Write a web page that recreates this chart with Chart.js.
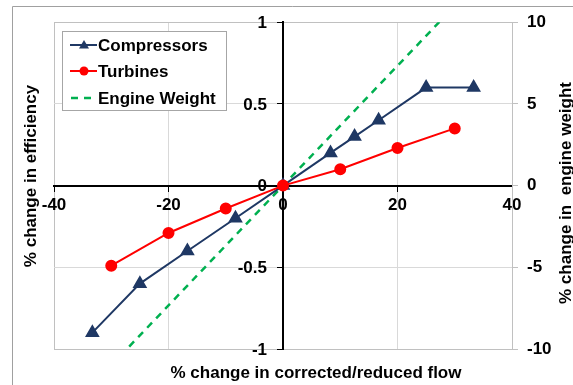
<!DOCTYPE html>
<html>
<head>
<meta charset="utf-8">
<script src="https://cdn.jsdelivr.net/npm/chart.js@4.4.1/dist/chart.umd.min.js"></script>
<style>
  html, body { margin: 0; padding: 0; background: #fff; }
  #wrap { width: 573px; height: 385px; position: relative; }
</style>
</head>
<body>
<div id="wrap"><canvas id="grafico"></canvas></div>
<script>
// Datos
const flujoCompresores = [-33.3, -25, -16.7, -8.3, 0, 8.3, 12.5, 16.7, 25, 33.3];
const efCompresores = [-0.9, -0.6, -0.4, -0.2, 0, 0.2, 0.3, 0.4, 0.6, 0.6];
const flujoTurbinas = [-30, -20, -10, 0, 10, 20, 30];
const efTurbinas = [-0.49, -0.29, -0.14, 0, 0.1, 0.23, 0.35];
const flujoPeso = [-30, 30];
const cambioPeso = [-11, 11];

const nombresSeries = ['Compressors', 'Turbines', 'Engine Weight'];
const tituloX = '% change in corrected/reduced flow';
const tituloY = '% change in efficiency';
const tituloY2 = '% change in  engine weight';

const AZUL = '#1F3864';
const ROJO = '#FF0000';
const VERDE = '#00B050';
const FUENTE = 'Liberation Sans, Arial, sans-serif';

Chart.defaults.font.family = FUENTE;
Chart.defaults.color = '#000';

function puntos(xs, ys) {
    return xs.map((x, i) => ({ x: x, y: ys[i] }));
}

const sinCeros = v => String(Number(v.toFixed(2)));

// Títulos, marco, etiquetas del eje izquierdo y leyenda dibujados a mano
const extras = {
    id: 'extras',
    beforeDraw(chart) {
        const c = chart.ctx;
        c.save();
        c.strokeStyle = '#a0a0a0';
        c.lineWidth = 1;
        c.beginPath();
        c.moveTo(12.5, 385);
        c.lineTo(12.5, 6.5);
        c.lineTo(573, 6.5);
        c.stroke();
        c.restore();
    },
    afterDatasetsDraw(chart) {
        const c = chart.ctx;
        c.save();
        c.font = 'bold 17px ' + FUENTE;
        c.fillStyle = '#000';

        // etiquetas del eje de eficiencia, a la izquierda del eje central
        const sy = chart.scales.y;
        const xEje = chart.scales.x.getPixelForValue(0);
        c.textAlign = 'right';
        c.textBaseline = 'middle';
        sy.ticks.forEach(t => c.fillText(sinCeros(t.value), xEje - 16, sy.getPixelForValue(t.value) + 1));

        // caja de la leyenda
        c.fillStyle = '#fff';
        c.fillRect(62, 31, 164, 79);
        c.strokeStyle = '#a6a6a6';
        c.lineWidth = 1;
        c.strokeRect(62.5, 31.5, 164, 79);

        const filas = [45, 71, 98];
        c.textAlign = 'left';
        // Compressors
        c.strokeStyle = AZUL; c.lineWidth = 2;
        c.beginPath(); c.moveTo(70, filas[0]); c.lineTo(97, filas[0]); c.stroke();
        c.fillStyle = AZUL;
        c.beginPath(); c.moveTo(84, filas[0] - 5); c.lineTo(89, filas[0] + 3.5); c.lineTo(79, filas[0] + 3.5); c.closePath(); c.fill();
        // Turbines
        c.strokeStyle = ROJO;
        c.beginPath(); c.moveTo(70, filas[1]); c.lineTo(97, filas[1]); c.stroke();
        c.fillStyle = ROJO;
        c.beginPath(); c.arc(84, filas[1], 4.5, 0, Math.PI * 2); c.fill();
        // Engine Weight
        c.strokeStyle = VERDE; c.lineWidth = 2.5;
        c.setLineDash([7, 6]);
        c.beginPath(); c.moveTo(71, filas[2]); c.lineTo(97, filas[2]); c.stroke();
        c.setLineDash([]);

        c.fillStyle = '#000';
        nombresSeries.forEach((n, i) => c.fillText(n, 98, filas[i] + 1));

        // títulos de ejes
        c.textAlign = 'center';
        c.fillText(tituloX, 316, 373);
        c.save();
        c.translate(31, 176);
        c.rotate(-Math.PI / 2);
        c.fillText(tituloY, 0, 0);
        c.restore();
        c.save();
        c.translate(566, 193);
        c.rotate(-Math.PI / 2);
        c.fillText(tituloY2, 0, 0);
        c.restore();
        c.restore();
    }
};

const esBorde = (v, lim) => Math.abs(Math.abs(v) - lim) < 1e-9;

const ctx = document.getElementById('grafico').getContext('2d');
const grafico = new Chart(ctx, {
    type: 'scatter',
    data: {
        datasets: [{
            label: nombresSeries[0],
            data: puntos(flujoCompresores, efCompresores),
            showLine: true,
            borderColor: AZUL,
            backgroundColor: AZUL,
            borderWidth: 2,
            pointStyle: 'triangle',
            pointRadius: 6.5,
            pointHoverRadius: 6.5,
            yAxisID: 'y',
            order: 1
        }, {
            label: nombresSeries[1],
            data: puntos(flujoTurbinas, efTurbinas),
            showLine: true,
            borderColor: ROJO,
            backgroundColor: ROJO,
            borderWidth: 2,
            pointStyle: 'circle',
            pointRadius: 5,
            pointHoverRadius: 5,
            yAxisID: 'y',
            order: 0
        }, {
            label: nombresSeries[2],
            data: puntos(flujoPeso, cambioPeso),
            showLine: true,
            borderColor: VERDE,
            borderWidth: 2.5,
            borderDash: [7, 6],
            pointRadius: 0,
            yAxisID: 'y2',
            order: 2
        }]
    },
    options: {
        responsive: true,
        maintainAspectRatio: false,
        animation: false,
        layout: { padding: { left: 54, top: 19, bottom: 36, right: 0 } },
        plugins: {
            legend: { display: false },
            tooltip: { enabled: false }
        },
        scales: {
            x: {
                type: 'linear',
                position: { y: 0 },
                min: -40,
                max: 40,
                ticks: { stepSize: 20, padding: 5, maxRotation: 0, font: { size: 17, weight: 'bold' }, callback: sinCeros },
                grid: {
                    color: c => (c.tick && c.tick.value === 0) ? 'rgba(0,0,0,0)' : (c.tick && esBorde(c.tick.value, 40) ? '#c0c0c0' : '#d9d9d9'),
                    tickLength: 5,
                    tickColor: '#000'
                },
                border: { color: '#000', width: 2 }
            },
            y: {
                type: 'linear',
                position: { x: 0 },
                min: -1,
                max: 1,
                // etiquetas transparentes aquí; se pintan en el plugin
                ticks: { stepSize: 0.5, padding: 12, color: 'rgba(0,0,0,0)', font: { size: 17, weight: 'bold' }, callback: sinCeros },
                grid: {
                    color: c => (c.tick && c.tick.value === 0) ? 'rgba(0,0,0,0)' : (c.tick && esBorde(c.tick.value, 1) ? '#c0c0c0' : '#d9d9d9'),
                    tickLength: 5,
                    tickColor: '#000'
                },
                border: { color: '#000', width: 2 }
            },
            y2: {
                type: 'linear',
                position: 'right',
                min: -10,
                max: 10,
                ticks: { stepSize: 5, padding: 9, font: { size: 17, weight: 'bold' }, callback: sinCeros },
                grid: { drawOnChartArea: false, tickLength: 6, tickColor: '#c0c0c0' },
                border: { color: '#c0c0c0', width: 1 },
                afterFit: s => { s.width = 61; }
            }
        }
    },
    plugins: [extras]
});
</script>
</body>
</html>
